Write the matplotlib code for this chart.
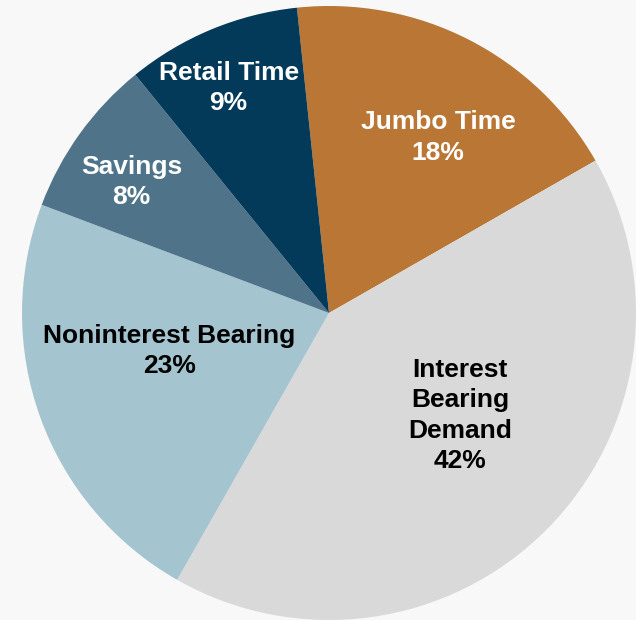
import matplotlib.pyplot as plt

plt.rcParams['font.family'] = ['Liberation Sans', 'DejaVu Sans']

labels = ['Jumbo Time', 'Interest\nBearing\nDemand', 'Noninterest Bearing', 'Savings', 'Retail Time']
shares = [18.4, 41.5, 22.5, 8.4, 9.2]          # wedge sizes
pct_labels = ['18%', '42%', '23%', '8%', '9%']   # as printed on the chart
colors = ['#B97634', '#D9D9D9', '#A4C4CF', '#4F7489', '#033A5A']
text_colors = ['white', 'black', 'black', 'white', 'white']

# label centres (data units, pie radius = 1)
label_pos = [(0.355, 0.572), (0.427, -0.334), (-0.52, -0.124), (-0.643, 0.427), (-0.327, 0.733)]

fig = plt.figure(figsize=(6.36, 6.20), dpi=100)
fig.patch.set_facecolor('#F8F8F8')
ax = fig.add_axes([0, 0, 1, 1])
ax.set_facecolor('#F8F8F8')

ax.pie(shares, colors=colors, startangle=96.0, counterclock=False,
       wedgeprops=dict(linewidth=0))

for lab, pct, (x, y), c in zip(labels, pct_labels, label_pos, text_colors):
    ax.text(x, y, f'{lab}\n{pct}', ha='center', va='center', color=c,
            fontsize=19, fontweight='bold', linespacing=1.33)

r = 307.0
ax.set_xlim(-329 / r, (636 - 329) / r)
ax.set_ylim(-(620 - 313) / r, 313 / r)
ax.set_aspect('auto')
ax.axis('off')

plt.savefig('out.png', dpi=100, facecolor=fig.get_facecolor())
